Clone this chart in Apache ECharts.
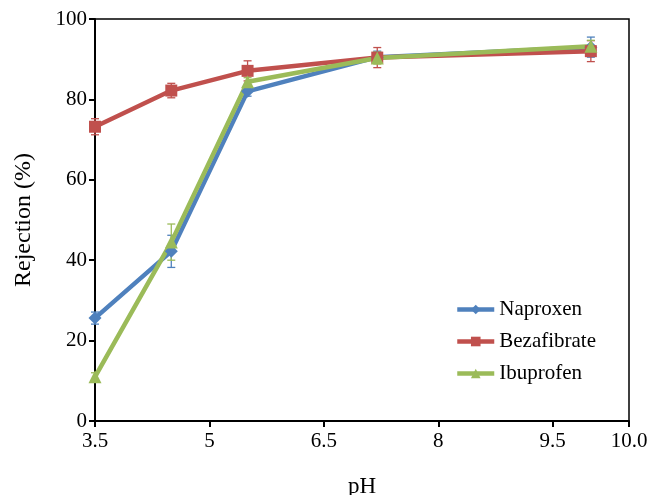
<!DOCTYPE html>
<html>
<head>
<meta charset="UTF-8">
<title>Rejection vs pH</title>
<script src="https://cdn.jsdelivr.net/npm/echarts@6/dist/echarts.min.js"></script>
<style>
    html, body {margin: 0; padding: 0; background: #fff;}
    #chart {width: 650px; height: 495px;}
</style>
</head>
<body>
<div id="chart"></div>
<script>
    // pH values
    var phValues = [3.5, 4.5, 5.5, 7.2, 10.0];
    // rejection (%)
    var naproxen = [25.6, 42.2, 82.0, 90.5, 93.0];
    var bezafibrate = [73.2, 82.2, 87.1, 90.4, 92.0];
    var ibuprofen = [11.0, 44.5, 84.4, 90.3, 93.2];
    // error bars (+/-)
    var naproxenErr = [1.5, 4.0, 1.2, 1.5, 2.5];
    var bezafibrateErr = [2.0, 1.8, 2.5, 2.5, 2.6];
    var ibuprofenErr = [1.0, 4.5, 1.0, 1.5, 1.5];
    // x tick labels as printed on the original
    var xTickLabels = ['3.5', '5', '6.5', '8', '9.5', '10.0'];

    var serif = '"Liberation Serif", "DejaVu Serif", serif';

    function pairs(ys) {
        return phValues.map(function (x, i) { return [x, ys[i]]; });
    }
    function errPairs(ys, errs) {
        return phValues.map(function (x, i) { return [x, ys[i], errs[i]]; });
    }

    function errorSeries(name, ys, errs, color) {
        return {
            name: name,
            type: 'custom',
            z: 3,
            data: errPairs(ys, errs),
            renderItem: function (params, api) {
                var x = api.value(0), y = api.value(1), e = api.value(2);
                var lo = api.coord([x, y - e]);
                var hi = api.coord([x, y + e]);
                var cap = 4;
                var style = {stroke: color, lineWidth: 1.3};
                return {
                    type: 'group',
                    children: [
                        {type: 'line', shape: {x1: lo[0], y1: lo[1], x2: hi[0], y2: hi[1]}, style: style},
                        {type: 'line', shape: {x1: lo[0] - cap, y1: lo[1], x2: lo[0] + cap, y2: lo[1]}, style: style},
                        {type: 'line', shape: {x1: hi[0] - cap, y1: hi[1], x2: hi[0] + cap, y2: hi[1]}, style: style}
                    ]
                };
            }
        };
    }

    function lineSeries(name, ys, color, symbol, size) {
        return {
            name: name,
            type: 'line',
            data: pairs(ys),
            symbol: symbol,
            symbolSize: size,
            z: 4,
            lineStyle: {color: color, width: 4.5},
            itemStyle: {color: color}
        };
    }

    var chart = echarts.init(document.getElementById('chart'));

    var option = {
        animation: false,
        color: ['#4F81BD', '#C0504D', '#9BBB59'],
        grid: {
            left: 95,
            right: 21,
            top: 19,
            bottom: 74,
            outerBoundsMode: 'none',
            show: true,
            borderColor: '#000',
            borderWidth: 1.5
        },
        legend: {
            data: ['Naproxen', 'Bezafibrate', 'Ibuprofen'],
            orient: 'vertical',
            left: 450,
            top: 294,
            itemWidth: 37,
            itemHeight: 12,
            itemGap: 11,
            lineStyle: {width: 4.5},
            textStyle: {fontFamily: serif, fontSize: 21, color: '#000'}
        },
        xAxis: {
            type: 'value',
            min: 3.5,
            max: 10.5,
            interval: 1.5,
            name: 'pH',
            nameLocation: 'middle',
            nameGap: 54,
            nameTextStyle: {fontFamily: serif, fontSize: 23, color: '#000'},
            axisLine: {lineStyle: {color: '#000', width: 2}},
            axisTick: {show: true, length: 6, lineStyle: {color: '#000', width: 2}},
            axisLabel: {
                fontFamily: serif, fontSize: 21, color: '#000', margin: 10,
                showMaxLabel: true,
                formatter: function (v, i) { return xTickLabels[i] !== undefined ? xTickLabels[i] : v; }
            },
            splitLine: {show: false}
        },
        yAxis: {
            type: 'value',
            min: 0,
            max: 100,
            interval: 20,
            name: 'Rejection (%)',
            nameLocation: 'middle',
            nameGap: 59,
            nameTextStyle: {fontFamily: serif, fontSize: 24, color: '#000'},
            axisLine: {show: true, lineStyle: {color: '#000', width: 2}},
            axisTick: {show: true, length: 6, lineStyle: {color: '#000', width: 2}},
            axisLabel: {fontFamily: serif, fontSize: 21, color: '#000', margin: 8},
            splitLine: {show: false}
        },
        series: [
            lineSeries('Naproxen', naproxen, '#4F81BD', 'diamond', 13),
            lineSeries('Bezafibrate', bezafibrate, '#C0504D', 'rect', 12),
            lineSeries('Ibuprofen', ibuprofen, '#9BBB59', 'triangle', 13),
            errorSeries('Naproxen', naproxen, naproxenErr, '#4F81BD'),
            errorSeries('Bezafibrate', bezafibrate, bezafibrateErr, '#C0504D'),
            errorSeries('Ibuprofen', ibuprofen, ibuprofenErr, '#9BBB59')
        ]
    };

    chart.setOption(option);
</script>
</body>
</html>
